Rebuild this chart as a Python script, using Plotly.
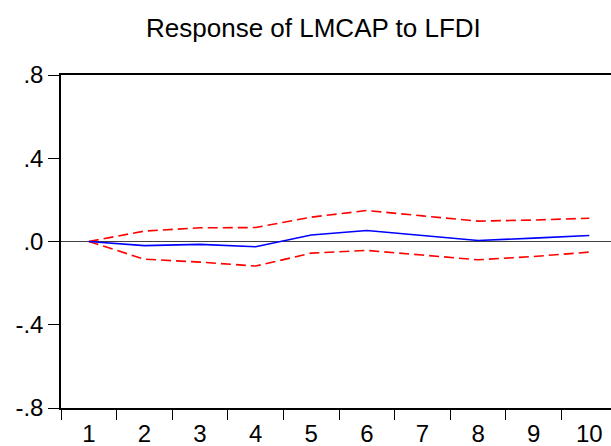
import plotly.graph_objects as go

periods = [1, 2, 3, 4, 5, 6, 7, 8, 9, 10]
response = [0.0, -0.020, -0.014, -0.025, 0.031, 0.053, 0.029, 0.005, 0.016, 0.029]
upper = [0.0, 0.050, 0.066, 0.067, 0.117, 0.149, 0.123, 0.098, 0.103, 0.112]
lower = [0.0, -0.085, -0.099, -0.118, -0.056, -0.043, -0.065, -0.088, -0.072, -0.051]
y_tickvals = [-0.8, -0.4, 0.0, 0.4, 0.8]
y_ticktext = ["-.8", "-.4", ".0", ".4", ".8"]
title_text = "Response of LMCAP to LFDI"

fig = go.Figure()
fig.add_trace(go.Scatter(x=periods, y=upper, mode="lines",
                         line=dict(color="#ff0000", width=1.6, dash="10px,5px"), showlegend=False))
fig.add_trace(go.Scatter(x=periods, y=lower, mode="lines",
                         line=dict(color="#ff0000", width=1.6, dash="10px,5px"), showlegend=False))
fig.add_trace(go.Scatter(x=periods, y=response, mode="lines",
                         line=dict(color="#0000ff", width=1.6), showlegend=False))

fig.update_layout(
    width=611, height=446,
    margin=dict(l=61, r=0, t=75, b=38, autoexpand=False),
    paper_bgcolor="white", plot_bgcolor="white",
    font=dict(family="Liberation Sans, Arial, sans-serif", size=24, color="black"),
    title=dict(text=title_text, x=0.513, xanchor="center", xref="container",
               y=1 - 27.5 / 446, yanchor="middle", yref="container",
               font=dict(size=26, color="black")),
)
fig.update_xaxes(
    range=[0.5, 10.39], tickvals=periods, ticktext=[str(p) for p in periods],
    ticks="outside", ticklen=3, tickcolor="rgba(0,0,0,0)",
    minor=dict(ticks="outside", tick0=0.5, dtick=1, ticklen=10, tickcolor="black", tickwidth=1),
    showline=True, linecolor="black", linewidth=1.5, mirror=True,
    showgrid=False, zeroline=False, automargin=False,
)
fig.update_yaxes(
    range=[-0.8, 0.8], tickvals=y_tickvals, ticktext=y_ticktext,
    ticks="outside", ticklen=11, tickcolor="black", tickwidth=1,
    showline=True, linecolor="black", linewidth=1.5, mirror=False,
    showgrid=False, zeroline=True, zerolinecolor="#404040", zerolinewidth=1,
    automargin=False,
)

fig.write_html("out.html")
